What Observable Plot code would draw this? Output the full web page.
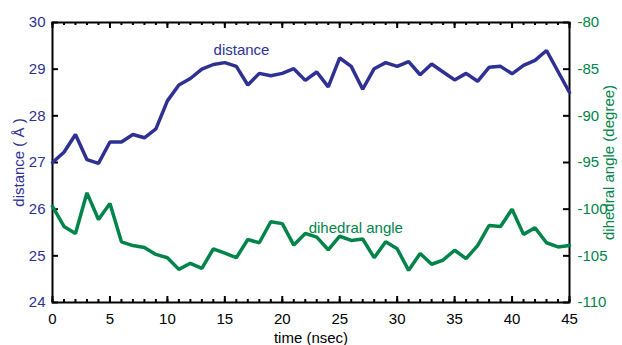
<!DOCTYPE html>
<html>
<head>
<meta charset="utf-8">
<script src="https://cdn.jsdelivr.net/npm/d3@7"></script>
<script src="https://cdn.jsdelivr.net/npm/@observablehq/plot@0.6"></script>
<style>
  html, body { margin: 0; padding: 0; background: #fff; }
  #chart { width: 622px; height: 345px; }
</style>
</head>
<body>
<div id="chart"></div>
<script>
// Simulation time (nsec), one sample per nanosecond
const time = d3.range(0, 46);

// Inter-domain distance (Å)
const distance = [
  27.0, 27.22, 27.6, 27.06, 26.98, 27.44, 27.44, 27.6, 27.53, 27.72,
  28.32, 28.66, 28.8, 29.0, 29.1, 29.14, 29.06, 28.66, 28.91, 28.86,
  28.91, 29.01, 28.76, 28.94, 28.62, 29.24, 29.06, 28.57, 29.01, 29.14,
  29.06, 29.16, 28.88, 29.11, 28.94, 28.77, 28.91, 28.74, 29.04, 29.06,
  28.9, 29.08, 29.19, 29.4, 28.95, 28.5
];

// Dihedral angle (degree)
const dihedral = [
  -99.7, -101.85, -102.6, -98.25, -101.1, -99.4, -103.5, -103.9, -104.1, -104.85,
  -105.2, -106.45, -105.8, -106.35, -104.25, -104.7, -105.2, -103.25, -103.6, -101.35,
  -101.55, -103.85, -102.6, -103.0, -104.35, -102.9, -103.35, -103.2, -105.2, -103.5,
  -104.25, -106.55, -104.75, -105.9, -105.45, -104.4, -105.3, -103.9, -101.75, -101.85,
  -100.0, -102.7, -102.0, -103.6, -104.05, -103.9
];

// Axis ticks
const xMajor = [0, 5, 10, 15, 20, 25, 30, 35, 40, 45];
const xMinor = d3.range(0, 46);
const distTicks = [24, 25, 26, 27, 28, 29, 30];
const angleTicks = [-110, -105, -100, -95, -90, -85, -80];

// Dual axis: the angle range [-110, -80] shares the frame with [24, 30] Å
const xDomain = [0, 45];
const distDomain = [24, 30];
const angleDomain = [-110, -80];
const angleToDist = d3.scaleLinear().domain(angleDomain).range(distDomain);

const blue = "#2e3192";
const green = "#00844a";
const font = "'Liberation Sans', Arial, Helvetica, sans-serif";

const W = 622, H = 345;
const M = {left: 52, right: 53, top: 22, bottom: 43};
// data units per pixel, for tick lengths given in pixels
const perPxX = (xDomain[1] - xDomain[0]) / (W - M.left - M.right);
const perPxY = (distDomain[1] - distDomain[0]) / (H - M.top - M.bottom);

const distRows = time.map((t, i) => ({t, v: distance[i]}));
const angleRows = time.map((t, i) => ({t, v: angleToDist(dihedral[i])}));

// Inward tick marks along each frame edge
const tickStyle = {stroke: "black", strokeWidth: 2};
const [x0, x1] = xDomain, [y0, y1] = distDomain;
const ticksBottom = (v, len) => Plot.ruleX(v, {x: d => d, y1: y0, y2: y0 + len * perPxY, ...tickStyle});
const ticksTop = (v, len) => Plot.ruleX(v, {x: d => d, y1: y1, y2: y1 - len * perPxY, ...tickStyle});
const ticksLeft = (v, len) => Plot.ruleY(v, {y: d => d, x1: x0, x2: x0 + len * perPxX, ...tickStyle});
const ticksRight = (v, len) => Plot.ruleY(v, {y: d => d, x1: x1, x2: x1 - len * perPxX, ...tickStyle});

const chart = Plot.plot({
  width: W,
  height: H,
  marginLeft: M.left,
  marginRight: M.right,
  marginTop: M.top,
  marginBottom: M.bottom,
  style: {fontFamily: font, fontSize: "15px", background: "white", overflow: "visible"},
  x: {domain: xDomain},
  y: {domain: distDomain},
  marks: [
    // bottom axis labels and title
    Plot.axisX({anchor: "bottom", ticks: xMajor, tickSize: 0, tickPadding: 11,
      fontSize: 15, color: "black", label: "time (nsec)", labelAnchor: "center",
      labelArrow: "none", labelOffset: 40}),
    // left axis: distance
    Plot.axisY({anchor: "left", ticks: distTicks, tickSize: 0, tickPadding: 7,
      tickFormat: d => String(d), color: blue, fontSize: 15,
      label: "distance ( Å )", labelAnchor: "center", labelArrow: "none", labelOffset: 39}),
    // right axis: dihedral angle
    Plot.axisY({anchor: "right", ticks: angleTicks.map(angleToDist), tickSize: 0, tickPadding: 8,
      tickFormat: d => String(Math.round(angleToDist.invert(d))), color: green, fontSize: 15,
      label: "dihedral angle (degree)", labelAnchor: "center", labelArrow: "none", labelOffset: 44}),
    // inward ticks on all four edges
    ticksBottom(xMajor, 6),
    ticksBottom(xMinor, 3),
    ticksTop(xMajor, 6),
    ticksTop(xMinor, 3),
    ticksLeft(distTicks, 6),
    ticksRight(angleTicks.map(angleToDist), 6),
    Plot.frame({stroke: "black", strokeWidth: 2}),
    Plot.line(distRows, {x: "t", y: "v", stroke: blue, strokeWidth: 3.5, strokeLinejoin: "miter"}),
    Plot.line(angleRows, {x: "t", y: "v", stroke: green, strokeWidth: 3.5, strokeLinejoin: "miter"}),
    Plot.text(["distance"], {x: 16.45, y: 29.4, text: d => d, fill: blue, fontSize: 15}),
    Plot.text(["dihedral angle"], {x: 26.4, y: 25.59, text: d => d, fill: green, fontSize: 15})
  ]
});

document.getElementById("chart").appendChild(chart);
</script>
</body>
</html>
